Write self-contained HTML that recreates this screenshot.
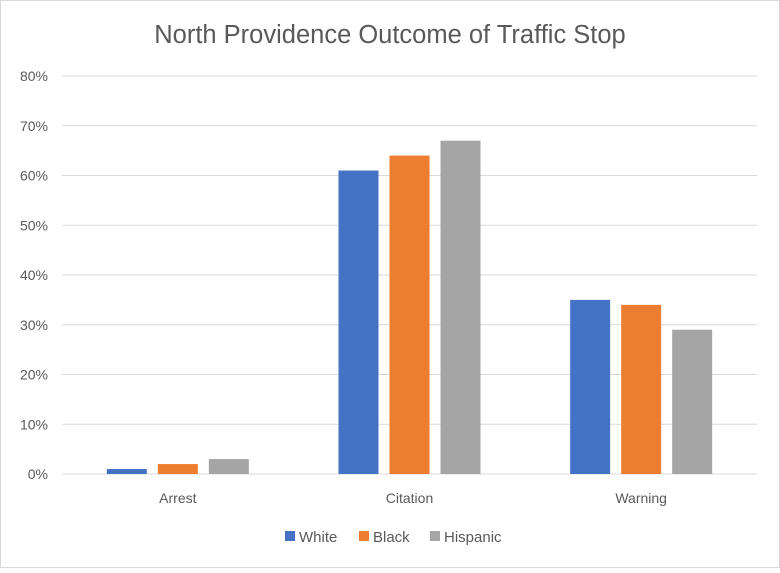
<!DOCTYPE html>
<html><head><meta charset="utf-8"><style>
body{margin:0;background:#fff;font-family:"Liberation Sans",sans-serif;}
svg text{font-family:"Liberation Sans",sans-serif;}
</style></head><body>
<svg id="chart" width="780" height="568">
<rect x="0.5" y="0.5" width="779" height="567" fill="#fff" stroke="#d9d9d9"/>
<text x="390" y="43" text-anchor="middle" font-size="25.5" fill="#595959">North Providence Outcome of Traffic Stop</text>
<g id="grid"></g><g id="bars"></g><g id="xlabels"></g>
<g>
<rect x="285" y="531" width="10" height="10" fill="#4472c4"/>
<text x="299" y="542" font-size="15" fill="#595959">White</text>
<rect x="359" y="531" width="10" height="10" fill="#ed7d31"/>
<text x="373" y="542" font-size="15" fill="#595959">Black</text>
<rect x="430" y="531" width="10" height="10" fill="#a5a5a5"/>
<text x="444" y="542" font-size="15" fill="#595959">Hispanic</text>
</g>
</svg>
<script>
const categories=["Arrest","Citation","Warning"];
const white=[1,61,35];
const black=[2,64,34];
const hispanic=[3,67,29];
const ticks=[0,10,20,30,40,50,60,70,80];
const NS="http://www.w3.org/2000/svg";
const y0=474,yTop=76,xL=62,xR=757;
const yScale=v=>y0-(v/80)*(y0-yTop);
const catW=(xR-xL)/categories.length;
const xCenter=i=>xL+catW*(i+0.5);
const grid=document.getElementById('grid');
ticks.forEach(t=>{
 const l=document.createElementNS(NS,'line');
 l.setAttribute('x1',xL);l.setAttribute('x2',xR);l.setAttribute('y1',yScale(t));l.setAttribute('y2',yScale(t));
 l.setAttribute('stroke','#d9d9d9');
 
 
 grid.appendChild(l);
 const tx=document.createElementNS(NS,'text');
 tx.setAttribute('x',48);tx.setAttribute('y',yScale(t)+5);tx.setAttribute('text-anchor','end');
 tx.setAttribute('font-size','14');tx.setAttribute('fill','#595959');
 tx.textContent=t+'%';
 
 
 grid.appendChild(tx);
});
const series=[[white,'#4472c4','white'],[black,'#ed7d31','black'],[hispanic,'#a5a5a5','hispanic']];
const bw=40,gap=11;
const bars=document.getElementById('bars');
categories.forEach((c,i)=>{
 series.forEach((s,j)=>{
  const r=document.createElementNS(NS,'rect');
  const x=xCenter(i)-(3*bw+2*gap)/2+j*(bw+gap);
  r.setAttribute('x',x);r.setAttribute('width',bw);
  r.setAttribute('y',yScale(s[0][i]));r.setAttribute('height',y0-yScale(s[0][i]));
  r.setAttribute('fill',s[1]);
  
  
  bars.appendChild(r);
 });
 const t=document.createElementNS(NS,'text');
 t.setAttribute('x',xCenter(i));t.setAttribute('y',503);t.setAttribute('text-anchor','middle');
 t.setAttribute('font-size','14');t.setAttribute('fill','#595959');
 t.textContent=c;
 
 
 document.getElementById('xlabels').appendChild(t);
});
</script>
</body></html>
